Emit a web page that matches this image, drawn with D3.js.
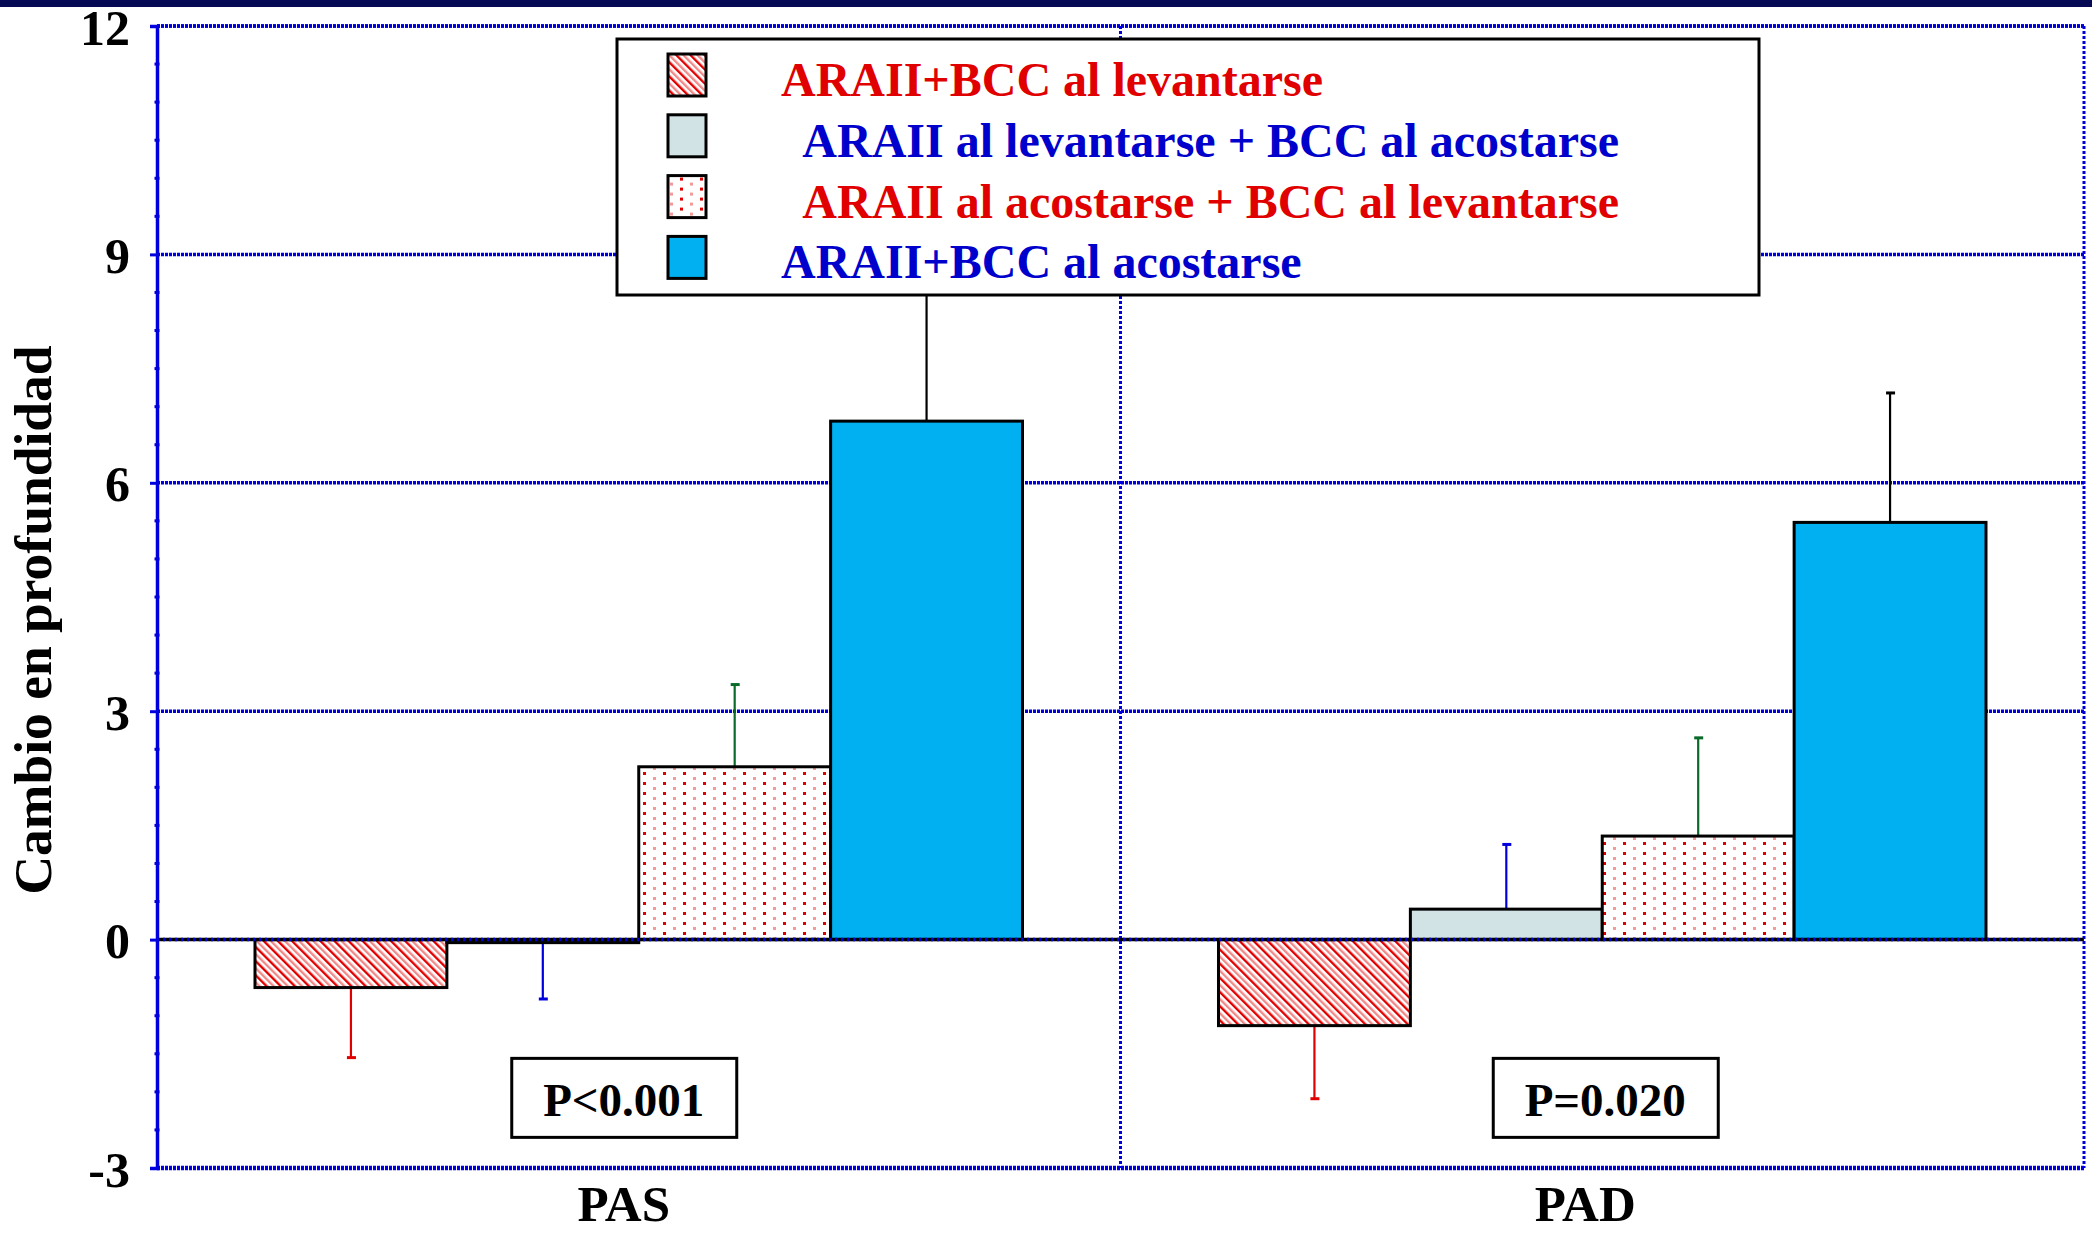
<!DOCTYPE html>
<html>
<head>
<meta charset="utf-8">
<script src="https://cdn.jsdelivr.net/npm/d3@7"></script>
<style>
  html, body { margin: 0; padding: 0; background: #ffffff; }
  svg { display: block; font-family: "Liberation Serif", "Times New Roman", serif; font-weight: bold; }
</style>
</head>
<body>
<svg id="chart" width="2092" height="1234"></svg>
<script>
// Blood-pressure groups on the x axis
const categories = ["PAS", "PAD"];

// Treatment schedules (legend order); leading spaces keep the original indentation
const seriesNames = [
  "ARAII+BCC al levantarse",
  "  ARAII al levantarse + BCC al acostarse",
  "  ARAII al acostarse + BCC al levantarse",
  "ARAII+BCC al acostarse"
];

// Mean change in dipping depth per schedule, for PAS and PAD
const levantarseValues = [-0.63, -1.13];
const mixtoAValues     = [-0.04, 0.40];
const mixtoBValues     = [2.27, 1.36];
const acostarseValues  = [6.81, 5.48];

// One-sided error bars (standard deviation) per schedule
const levantarseErrors = [0.92, 0.96];
const mixtoAErrors     = [0.74, 0.85];
const mixtoBErrors     = [1.08, 1.29];
const acostarseErrors  = [3.00, 1.70];

// Significance label per group
const pValues = ["P<0.001", "P=0.020"];

// Y axis ticks
const yTicks = [-3, 0, 3, 6, 9, 12];

const yTitle = "Cambio en profundidad";

const seriesValues = [levantarseValues, mixtoAValues, mixtoBValues, acostarseValues];
const seriesErrors = [levantarseErrors, mixtoAErrors, mixtoBErrors, acostarseErrors];

const RED = "#e00000", BLUE = "#0000cc", GRID = "#0000dd";
const fills = ["url(#diag)", "#d2e3e6", "url(#dots)", "#00b0f0"];
const errColors = [RED, "#0000dd", "#0a6a2a", "#000000"];
const textColors = [RED, BLUE, RED, BLUE];

const svg = d3.select("#chart");

// ---------- patterns ----------
const defs = svg.append("defs");
const diag = defs.append("pattern").attr("id", "diag")
  .attr("patternUnits", "userSpaceOnUse").attr("width", 10).attr("height", 10)
  .attr("patternTransform", "rotate(-45)");
diag.append("rect").attr("width", 10).attr("height", 10).attr("fill", "#ffffff");
diag.append("rect").attr("x", 0).attr("width", 2.4).attr("height", 10).attr("fill", "#e00000");
diag.append("rect").attr("x", 5).attr("width", 2.4).attr("height", 10).attr("fill", "#f08a8a");

const dots = defs.append("pattern").attr("id", "dots")
  .attr("patternUnits", "userSpaceOnUse").attr("width", 20).attr("height", 10);
dots.append("rect").attr("width", 20).attr("height", 10).attr("fill", "#ffffff");
dots.append("rect").attr("x", 3).attr("y", 2).attr("width", 3).attr("height", 3).attr("fill", "#e00000");
dots.append("rect").attr("x", 13).attr("y", 7).attr("width", 3).attr("height", 3).attr("fill", "#f29a9a");

// ---------- frame band ----------
svg.append("rect").attr("x", 0).attr("y", 0).attr("width", 2092).attr("height", 7).attr("fill", "#060a55");

// ---------- scales ----------
const plot = { left: 157, right: 2084, top: 26, bottom: 1168 };
const x = d3.scaleBand().domain(categories).range([plot.left, plot.right]).padding(0);
const groupPad = 98;
const xs = d3.scaleBand().domain(d3.range(seriesNames.length))
  .range([groupPad, x.bandwidth() - groupPad]).padding(0);
const y = d3.scaleLinear().domain([-3, 12]).range([plot.bottom, plot.top]);

// ---------- grid ----------
const grid = svg.append("g");
grid.selectAll("line.h").data(yTicks.filter(t => t > 0)).join("line")
  .attr("x1", plot.left).attr("x2", plot.right)
  .attr("y1", d => y(d)).attr("y2", d => y(d))
  .attr("stroke", GRID).attr("stroke-width", 3.5).attr("stroke-dasharray", "3,1");
// category separator and right border
grid.selectAll("line.v").data([x(categories[1]), plot.right]).join("line")
  .attr("x1", d => d).attr("x2", d => d)
  .attr("y1", plot.top).attr("y2", plot.bottom)
  .attr("stroke", GRID).attr("stroke-width", 3).attr("stroke-dasharray", "3,2");
// bottom border
grid.append("line").attr("x1", plot.left).attr("x2", plot.right)
  .attr("y1", y(-3)).attr("y2", y(-3))
  .attr("stroke", GRID).attr("stroke-width", 4.5).attr("stroke-dasharray", "3,1");

// ---------- bars ----------
const data = [];
categories.forEach((c, ci) => {
  seriesNames.forEach((s, si) => {
    data.push({ c, si, v: seriesValues[si][ci], e: seriesErrors[si][ci] });
  });
});

const bars = svg.append("g");
// error bars drawn first so the legend can cover them
const eb = bars.append("g");
data.forEach(d => {
  const cx = x(d.c) + xs(d.si) + xs.bandwidth() / 2;
  const tip = d.v >= 0 ? d.v + d.e : d.v - d.e;
  eb.append("line").attr("x1", cx).attr("x2", cx)
    .attr("y1", y(d.v)).attr("y2", y(tip))
    .attr("stroke", errColors[d.si]).attr("stroke-width", 2.2);
  eb.append("line").attr("x1", cx - 4).attr("x2", cx + 5)
    .attr("y1", y(tip)).attr("y2", y(tip))
    .attr("stroke", errColors[d.si]).attr("stroke-width", 3);
});

bars.selectAll("rect.bar").data(data).join("rect")
  .attr("class", "bar")
  .attr("x", d => x(d.c) + xs(d.si))
  .attr("width", xs.bandwidth())
  .attr("y", d => y(Math.max(0, d.v)))
  .attr("height", d => Math.abs(y(d.v) - y(0)))
  .attr("fill", d => fills[d.si])
  .attr("stroke", "#000").attr("stroke-width", 3);

// ---------- zero line ----------
svg.append("line").attr("x1", plot.left).attr("x2", plot.right)
  .attr("y1", y(0)).attr("y2", y(0)).attr("stroke", "#000").attr("stroke-width", 3.5);
svg.append("line").attr("x1", plot.left).attr("x2", plot.right)
  .attr("y1", y(0)).attr("y2", y(0)).attr("stroke", GRID).attr("stroke-width", 3.5)
  .attr("stroke-dasharray", "2,4");

// ---------- top border ----------
svg.append("line").attr("x1", plot.left).attr("x2", plot.right)
  .attr("y1", y(12)).attr("y2", y(12))
  .attr("stroke", GRID).attr("stroke-width", 3.5).attr("stroke-dasharray", "3,1");

// ---------- y axis ----------
const yAxis = d3.axisLeft(y).tickValues(yTicks).tickSize(7).tickPadding(20).tickFormat(d => String(d));
const ya = svg.append("g").attr("transform", `translate(${plot.left},0)`).call(yAxis);
ya.select(".domain").attr("stroke", GRID).attr("stroke-width", 3.5);
ya.selectAll(".tick line").attr("stroke", GRID).attr("stroke-width", 3);
ya.selectAll(".tick text")
  .attr("font-family", "'Liberation Serif', 'Times New Roman', serif")
  .attr("font-weight", "bold").attr("font-size", 50).attr("fill", "#000")
  .attr("dy", "0.36em");
// minor marks along the axis
svg.append("g").selectAll("line").data(d3.range(-3, 12.01, 0.5).filter(v => v % 3 !== 0)).join("line")
  .attr("x1", plot.left - 2.5).attr("x2", plot.left + 2.5)
  .attr("y1", d => y(d)).attr("y2", d => y(d))
  .attr("stroke", GRID).attr("stroke-width", 3);

svg.append("text")
  .attr("transform", `translate(51,${(plot.top + plot.bottom) / 2 + 23}) rotate(-90)`)
  .attr("text-anchor", "middle").attr("font-size", 53.5).attr("fill", "#000")
  .text(yTitle);

// ---------- category labels ----------
const labelShift = [-15, -17];
svg.append("g").selectAll("text").data(categories).join("text")
  .attr("x", (d, i) => x(d) + x.bandwidth() / 2 + labelShift[i])
  .attr("y", 1221)
  .attr("text-anchor", "middle").attr("font-size", 51).attr("fill", "#000")
  .text(d => d);

// ---------- p-value boxes ----------
const boxShift = [-15, 3];
const pb = svg.append("g").selectAll("g").data(categories).join("g")
  .attr("transform", (d, i) => `translate(${x(d) + x.bandwidth() / 2 + boxShift[i]},${y(-1.56)})`);
pb.append("rect").attr("x", -112).attr("y", 0).attr("width", 225).attr("height", 79)
  .attr("fill", "#fff").attr("stroke", "#000").attr("stroke-width", 3);
pb.append("text").attr("x", 0).attr("y", 58).attr("text-anchor", "middle")
  .attr("font-size", 47).attr("fill", "#000")
  .text((d, i) => pValues[i]);

// ---------- legend ----------
const lg = svg.append("g").attr("transform", "translate(617,39)");
lg.append("rect").attr("width", 1142).attr("height", 256)
  .attr("fill", "#fff").attr("stroke", "#000").attr("stroke-width", 3);
const items = lg.selectAll("g.item").data(seriesNames).join("g")
  .attr("class", "item")
  .attr("transform", (d, i) => `translate(0,${15 + i * 60.8})`);
items.append("rect").attr("x", 51).attr("y", 0).attr("width", 38).attr("height", 42)
  .attr("fill", (d, i) => fills[i]).attr("stroke", "#000").attr("stroke-width", 3);
items.append("text").attr("x", 164).attr("y", 42)
  .attr("font-size", 48).attr("xml:space", "preserve").style("white-space", "pre")
  .attr("fill", (d, i) => textColors[i])
  .text(d => d);
</script>
</body>
</html>
